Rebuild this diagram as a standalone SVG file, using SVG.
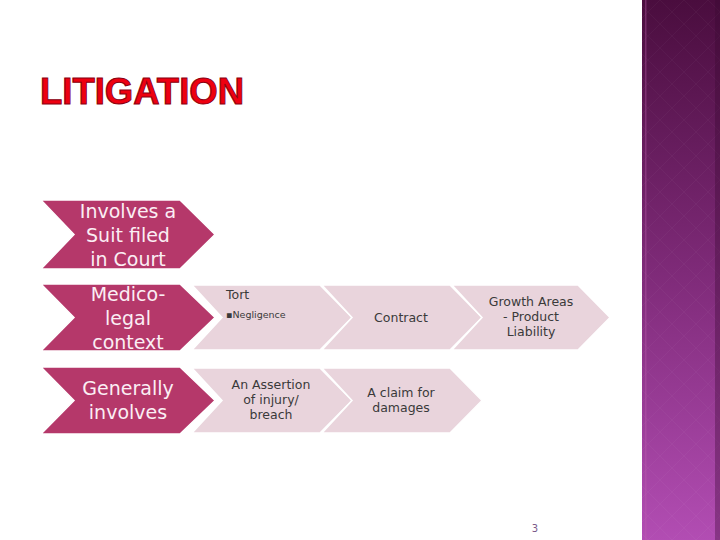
<svg xmlns="http://www.w3.org/2000/svg" width="720" height="540" viewBox="0 0 720 540">
<defs>
<linearGradient id="side" x1="0" y1="0" x2="0" y2="1">
<stop offset="0" stop-color="#4a0d3e"/>
<stop offset="0.5" stop-color="#7e2a78"/>
<stop offset="1" stop-color="#b24db3"/>
</linearGradient>
<pattern id="dia" width="24" height="24" patternUnits="userSpaceOnUse">
<path d="M12 0 L24 12 L12 24 L0 12 Z" fill="none" stroke="#ffffff" stroke-opacity="0.03" stroke-width="1"/>
</pattern>
<style>
.dark{fill:#b5386a;stroke:#ffffff;stroke-width:1.5}
.light{fill:#e9d4dc;stroke:#ffffff;stroke-width:1.5}
.dt{font-family:"DejaVu Sans",sans-serif;font-size:19px;fill:#fbeef4;text-anchor:middle}
.lt{font-family:"DejaVu Sans",sans-serif;font-size:12.5px;fill:#3a3a3a;text-anchor:middle}
</style>
</defs>
<rect width="720" height="540" fill="#ffffff"/>
<g id="sidebar">
<rect x="642" y="0" width="78" height="540" fill="url(#side)"/>
<rect x="642" y="0" width="78" height="540" fill="url(#dia)"/>
<rect x="645" y="0" width="1.5" height="540" fill="#c060b0" opacity="0.35"/>
<rect x="715" y="0" width="5" height="540" fill="#3a0a30" opacity="0.35"/>
</g>
<g id="title">
<text x="40" y="104" font-family="'Liberation Sans',Arial,sans-serif" font-weight="bold" font-size="36" fill="#ee0010" stroke="#8a0010" stroke-width="1" textLength="204" lengthAdjust="spacingAndGlyphs">LITIGATION</text>
</g>
<g id="node-involves">
<path class="dark" d="M41 200 H180 L215 234.5 L180 269 H41 L74 234.5 Z"/>
<text class="dt" x="128" y="218">Involves a</text>
<text class="dt" x="128" y="242">Suit filed</text>
<text class="dt" x="128" y="266">in Court</text>
</g>
<g id="node-tort">
<path class="light" d="M192 285 H320 L352 317.5 L320 350 H192 L222 317.5 Z"/>
<text x="226" y="299" font-family="'DejaVu Sans',sans-serif" font-size="12.5" fill="#3a3a3a">Tort</text>
<text x="226" y="318" font-family="'DejaVu Sans',sans-serif" font-size="9.5" fill="#3a3a3a">▪Negligence</text>
</g>
<g id="node-contract">
<path class="light" d="M322 285 H450 L482 317.5 L450 350 H322 L352 317.5 Z"/>
<text class="lt" x="401" y="322">Contract</text>
</g>
<g id="node-growth">
<path class="light" d="M452 285 H578 L610 317.5 L578 350 H452 L482 317.5 Z"/>
<text class="lt" x="531" y="306">Growth Areas</text>
<text class="lt" x="531" y="321">- Product</text>
<text class="lt" x="531" y="336">Liability</text>
</g>
<g id="node-assertion">
<path class="light" d="M192 368 H320 L352 400.5 L320 433 H192 L222 400.5 Z"/>
<text class="lt" x="271" y="389">An Assertion</text>
<text class="lt" x="271" y="404">of injury/</text>
<text class="lt" x="271" y="419">breach</text>
</g>
<g id="node-claim">
<path class="light" d="M322 368 H450 L482 400.5 L450 433 H322 L352 400.5 Z"/>
<text class="lt" x="401" y="397">A claim for</text>
<text class="lt" x="401" y="412">damages</text>
</g>
<g id="node-medico">
<path class="dark" d="M41 284 H180 L215 317.5 L180 351 H41 L74 317.5 Z"/>
<text class="dt" x="128" y="301">Medico-</text>
<text class="dt" x="128" y="325">legal</text>
<text class="dt" x="128" y="349">context</text>
</g>
<g id="node-generally">
<path class="dark" d="M41 367 H180 L215 400.5 L180 434 H41 L74 400.5 Z"/>
<text class="dt" x="128" y="395">Generally</text>
<text class="dt" x="128" y="419">involves</text>
</g>
<g id="connectors"></g>
<text x="535" y="532" font-family="'DejaVu Sans',sans-serif" font-size="10" fill="#7a5a8a" text-anchor="middle">3</text>
</svg>
